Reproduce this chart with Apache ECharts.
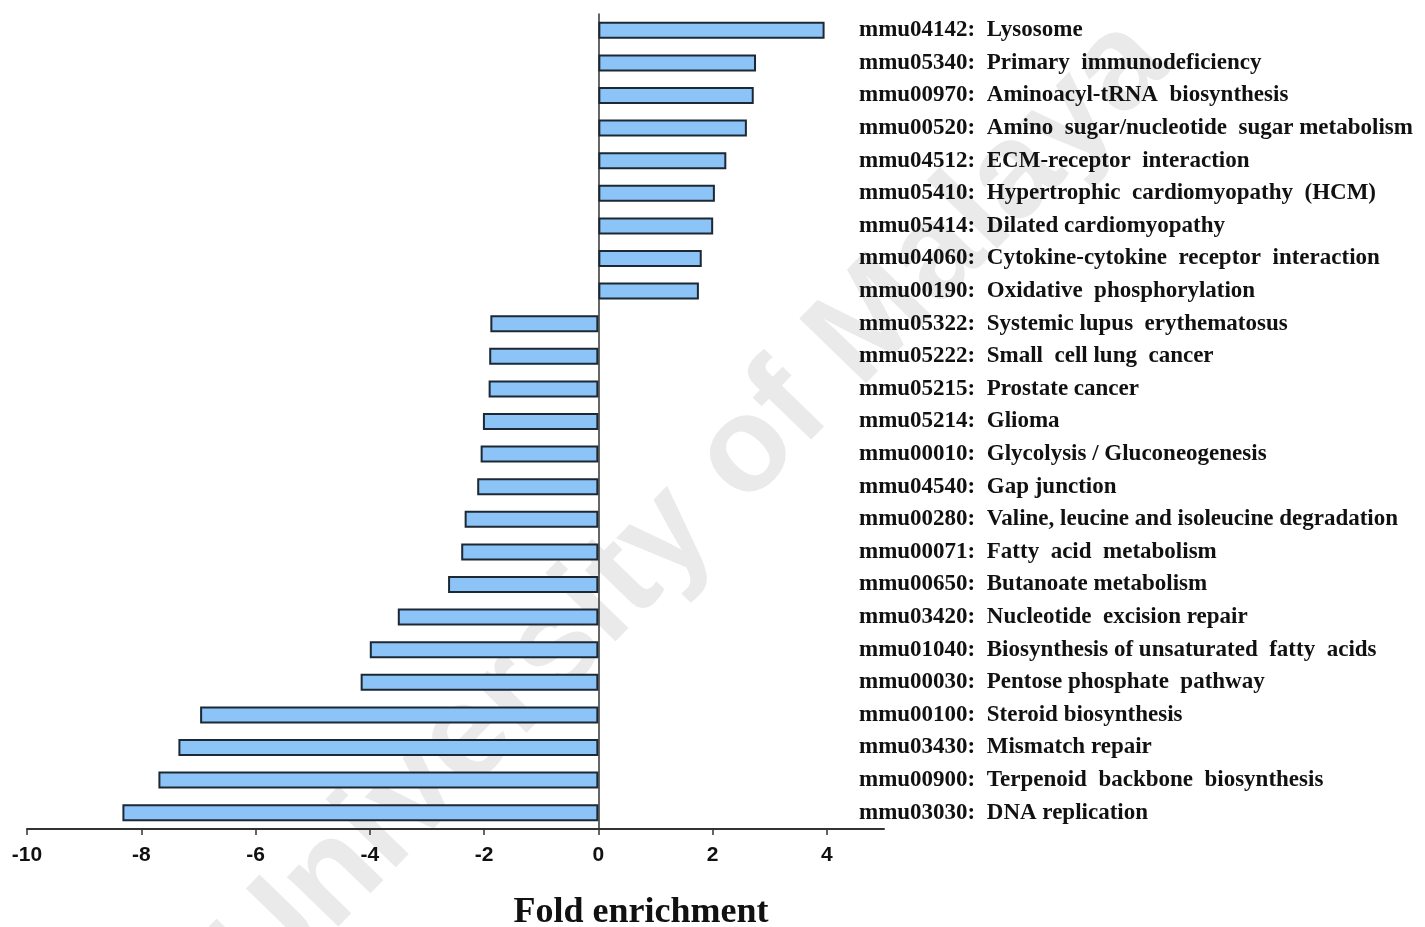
<!DOCTYPE html>
<html>
<head>
<meta charset="utf-8">
<script src="https://cdn.jsdelivr.net/npm/echarts@6/dist/echarts.min.js"></script>
<style>html,body{margin:0;padding:0;background:#fff;}#c{width:1425px;height:927px;}</style>
</head>
<body>
<div id="c"></div>
<script>
const categories = [
  "mmu04142:  Lysosome",
  "mmu05340:  Primary  immunodeficiency",
  "mmu00970:  Aminoacyl-tRNA  biosynthesis",
  "mmu00520:  Amino  sugar/nucleotide  sugar metabolism",
  "mmu04512:  ECM-receptor  interaction",
  "mmu05410:  Hypertrophic  cardiomyopathy  (HCM)",
  "mmu05414:  Dilated cardiomyopathy",
  "mmu04060:  Cytokine-cytokine  receptor  interaction",
  "mmu00190:  Oxidative  phosphorylation",
  "mmu05322:  Systemic lupus  erythematosus",
  "mmu05222:  Small  cell lung  cancer",
  "mmu05215:  Prostate cancer",
  "mmu05214:  Glioma",
  "mmu00010:  Glycolysis / Gluconeogenesis",
  "mmu04540:  Gap junction",
  "mmu00280:  Valine, leucine and isoleucine degradation",
  "mmu00071:  Fatty  acid  metabolism",
  "mmu00650:  Butanoate metabolism",
  "mmu03420:  Nucleotide  excision repair",
  "mmu01040:  Biosynthesis of unsaturated  fatty  acids",
  "mmu00030:  Pentose phosphate  pathway",
  "mmu00100:  Steroid biosynthesis",
  "mmu03430:  Mismatch repair",
  "mmu00900:  Terpenoid  backbone  biosynthesis",
  "mmu03030:  DNA replication"
];
const foldEnrichment = [
  3.96, 2.76, 2.72, 2.60, 2.24, 2.04, 2.01, 1.81, 1.76,
  -1.89, -1.91, -1.92, -2.02, -2.06, -2.12, -2.34, -2.40, -2.63,
  -3.51, -4.00, -4.16, -6.97, -7.35, -7.70, -8.33
];
const xTicks = [-10, -8, -6, -4, -2, 0, 2, 4];
const xTitle = "Fold enrichment";
const watermark = "University of Malaya";

const chart = echarts.init(document.getElementById('c'), null, {renderer: 'canvas'});
chart.setOption({
  backgroundColor: '#ffffff',
  animation: false,
  grid: {left: 27, right: 541, top: 14, bottom: 98, containLabel: false},
  xAxis: {
    type: 'value', min: -10, max: 5, interval: 2,
    splitLine: {show: false},
    axisLine: {show: true, onZero: false, lineStyle: {color: '#333333', width: 2}},
    axisTick: {show: true, customValues: xTicks, length: 6, lineStyle: {color: '#333333', width: 1.5}},
    axisLabel: {
      customValues: xTicks, margin: 16, color: '#111',
      fontFamily: '"Liberation Sans Narrow", "Liberation Sans", Arial, sans-serif',
      fontWeight: 'bold', fontSize: 21
    }
  },
  yAxis: [
    {
      type: 'category', data: categories, inverse: true,
      axisLine: {show: true, onZero: true, lineStyle: {color: '#333333', width: 1.5}},
      axisTick: {show: false}, axisLabel: {show: false}, splitLine: {show: false}
    },
    {
      type: 'category', data: categories, inverse: true, position: 'right', offset: -25,
      axisLine: {show: false}, axisTick: {show: false}, splitLine: {show: false},
      axisLabel: {
        margin: 0, color: '#111', align: 'left', padding: [5, 0, 0, 0],
        fontFamily: '"Liberation Serif", "Times New Roman", serif',
        fontWeight: 'bold', fontSize: 23
      }
    }
  ],
  series: [{
    type: 'bar', yAxisIndex: 0, data: foldEnrichment, barWidth: 17,
    itemStyle: {color: '#8cc4f8', borderColor: '#1c2833', borderWidth: 2},
    z: 3
  }],
  graphic: [
    {
      type: 'text', x: 692, y: 509, rotation: 0.80, z: -10, silent: true,
      style: {
        text: watermark, fill: '#eaeaea', fontSize: 135, fontWeight: 'bold',
        fontFamily: '"Liberation Sans", Arial, sans-serif',
        textAlign: 'center', textVerticalAlign: 'middle'
      }
    },
    {
      type: 'text', x: 641, y: 913, z: 10,
      style: {
        text: xTitle, fill: '#111', fontSize: 36, fontWeight: 'bold',
        fontFamily: '"Liberation Serif", "Times New Roman", serif',
        textAlign: 'center', textVerticalAlign: 'middle'
      }
    }
  ]
});
</script>
</body>
</html>
